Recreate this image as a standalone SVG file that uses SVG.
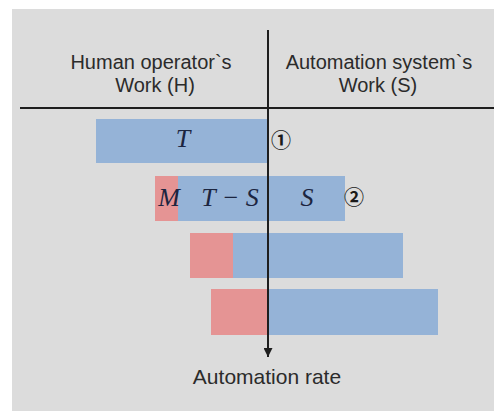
<svg xmlns="http://www.w3.org/2000/svg" width="494" height="411" viewBox="0 0 494 411">
  <defs>
    <style>
      .hdr { font-family: "Liberation Sans", Arial, sans-serif; font-size: 20px; fill: #2b2b2b; text-anchor: middle; }
      .math { font-family: "Liberation Serif", "Times New Roman", serif; font-style: italic; font-size: 26px; fill: #1c2540; text-anchor: middle; }
      .num { font-family: "Noto Sans CJK KR", "DejaVu Sans", sans-serif; font-size: 20px; font-weight: bold; fill: #1a1a1a; text-anchor: middle; }
      .blue { fill: #95b3d7; }
      .red { fill: #e59494; }
      .axis { stroke: #1e1e1e; stroke-width: 2; fill: none; }
    </style>
    <marker id="arrow" viewBox="0 0 10 10" refX="10" refY="5" markerWidth="5.5" markerHeight="4.5" markerUnits="strokeWidth" orient="auto">
      <path d="M0,0 L10,5 L0,10 z" fill="#1e1e1e"/>
    </marker>
  </defs>

  <rect x="12" y="9" width="482" height="402" fill="#dcdcdc"/>

  <g id="header-human">
    <text class="hdr" x="151" y="69">Human operator`s</text>
    <text class="hdr" x="155" y="92">Work (H)</text>
  </g>
  <g id="header-automation">
    <text class="hdr" x="379" y="69">Automation system`s</text>
    <text class="hdr" x="378" y="92">Work (S)</text>
  </g>

  <g id="bar1">
    <rect class="blue" x="96" y="119" width="172" height="44"/>
    <text class="math" x="183" y="147">T</text>
    <text class="num" x="281" y="148">①</text>
  </g>
  <g id="bar2">
    <rect class="red" x="155" y="176" width="23" height="45"/>
    <rect class="blue" x="178" y="176" width="167" height="45"/>
    <text class="math" x="169" y="206">M</text>
    <text class="math" x="230" y="206">T − S</text>
    <text class="math" x="307" y="206">S</text>
    <text class="num" x="354" y="205">②</text>
  </g>
  <g id="bar3">
    <rect class="red" x="190" y="233" width="43" height="45"/>
    <rect class="blue" x="233" y="233" width="170" height="45"/>
  </g>
  <g id="bar4">
    <rect class="red" x="211" y="289" width="57" height="46"/>
    <rect class="blue" x="268" y="289" width="170" height="46"/>
  </g>

  <g id="connectors">
    <line class="axis" x1="20" y1="108" x2="494" y2="108"/>
    <line class="axis" x1="268" y1="30" x2="268" y2="357" marker-end="url(#arrow)"/>
  </g>

  <g id="label-rate">
    <text class="hdr" x="267" y="384" style="font-size:21px">Automation rate</text>
  </g>
</svg>
